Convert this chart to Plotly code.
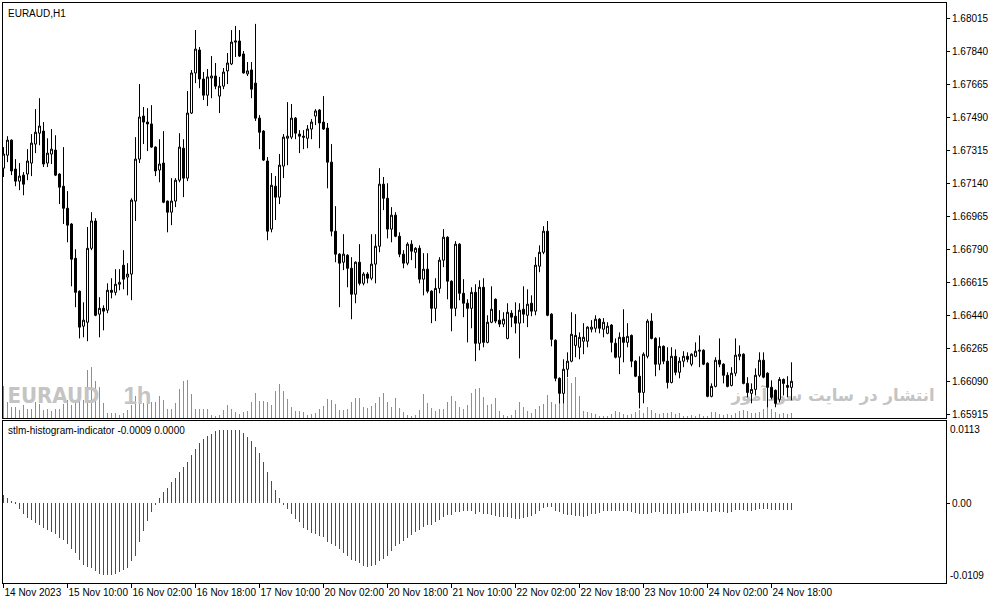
import pandas as pd
import plotly.graph_objects as go

# EURAUD H1, 14 Nov 2023 18:00 -> 24 Nov 2023 23:00 (198 bars, weekend skipped)
hours = pd.date_range("2023-11-14 18:00", "2023-11-24 23:00", freq="h")
hours = hours[hours.dayofweek < 5]
times = [t.strftime("%Y-%m-%d %H:%M") for t in hours]

opens = [
    1.67222, 1.67291, 1.67371, 1.67217, 1.67153, 1.67185, 1.67191, 1.67249, 1.67350, 1.67408,
    1.67419, 1.67249, 1.67297, 1.67318, 1.67191, 1.67126, 1.67009, 1.66925, 1.66743, 1.66568,
    1.66382, 1.66403, 1.66796, 1.66941, 1.66446, 1.66477, 1.66467, 1.66573, 1.66562, 1.66605,
    1.66706, 1.66643, 1.66659, 1.67047, 1.67270, 1.67499, 1.67467, 1.67457, 1.67334, 1.67212,
    1.67249, 1.67047, 1.66988, 1.67047, 1.67158, 1.67328, 1.67169, 1.67515, 1.67728, 1.67850,
    1.67696, 1.67610, 1.67701, 1.67712, 1.67605, 1.67658, 1.67739, 1.67776, 1.67892, 1.67898,
    1.67829, 1.67723, 1.67744, 1.67674, 1.67488, 1.67419, 1.67260, 1.66898, 1.67126, 1.67068,
    1.67233, 1.67381, 1.67387, 1.67488, 1.67403, 1.67392, 1.67381, 1.67430, 1.67499, 1.67531,
    1.67467, 1.67435, 1.67254, 1.66887, 1.66765, 1.66722, 1.66759, 1.66690, 1.66552, 1.66722,
    1.66610, 1.66659, 1.66637, 1.66712, 1.66807, 1.67137, 1.67062, 1.66898, 1.66972, 1.66860,
    1.66765, 1.66717, 1.66818, 1.66775, 1.66796, 1.66632, 1.66685, 1.66568, 1.66477, 1.66583,
    1.66733, 1.66855, 1.66621, 1.66477, 1.66818, 1.66557, 1.66504, 1.66477, 1.66562, 1.66291,
    1.66589, 1.66296, 1.66403, 1.66525, 1.66414, 1.66393, 1.66317, 1.66451, 1.66435, 1.66398,
    1.66472, 1.66440, 1.66504, 1.66462, 1.66701, 1.66775, 1.66887, 1.66446, 1.66307, 1.66105,
    1.66025, 1.66153, 1.66196, 1.66280, 1.66270, 1.66302, 1.66302, 1.66366, 1.66371, 1.66419,
    1.66366, 1.66344, 1.66388, 1.66291, 1.66217, 1.66323, 1.66296, 1.66333, 1.66196, 1.66116,
    1.66030, 1.66222, 1.66409, 1.66317, 1.66180, 1.66275, 1.66196, 1.66083, 1.66222, 1.66137,
    1.66196, 1.66222, 1.66180, 1.66222, 1.66249, 1.66254, 1.66185, 1.66009, 1.66062, 1.66201,
    1.66180, 1.66121, 1.66067, 1.66132, 1.66222, 1.66233, 1.66078, 1.66025, 1.66046, 1.66121,
    1.66201, 1.66132, 1.66057, 1.66041, 1.65993, 1.66099, 1.66067, 1.66057,
]
highs = [
    1.67334, 1.67392, 1.67375, 1.67270, 1.67249, 1.67201, 1.67323, 1.67403, 1.67536, 1.67594,
    1.67467, 1.67381, 1.67430, 1.67397, 1.67195, 1.67334, 1.67100, 1.66930, 1.66791, 1.66572,
    1.66509, 1.66909, 1.66988, 1.66956, 1.66536, 1.66493, 1.66610, 1.66637, 1.66685, 1.66685,
    1.66786, 1.66717, 1.67062, 1.67387, 1.67669, 1.67547, 1.67541, 1.67557, 1.67338, 1.67376,
    1.67419, 1.67050, 1.67169, 1.67169, 1.67408, 1.67376, 1.67632, 1.67744, 1.67956, 1.67866,
    1.67733, 1.67749, 1.67818, 1.67781, 1.67707, 1.67754, 1.67834, 1.67956, 1.67978, 1.67956,
    1.67845, 1.67786, 1.67786, 1.67989, 1.67504, 1.67424, 1.67281, 1.67196, 1.67180, 1.67297,
    1.67403, 1.67573, 1.67563, 1.67494, 1.67424, 1.67424, 1.67451, 1.67483, 1.67536, 1.67536,
    1.67605, 1.67462, 1.67350, 1.67020, 1.66770, 1.66871, 1.66765, 1.66749, 1.66727, 1.66818,
    1.66669, 1.66669, 1.66871, 1.66871, 1.67222, 1.67175, 1.67142, 1.67015, 1.66988, 1.66881,
    1.66786, 1.66828, 1.66839, 1.66802, 1.66812, 1.66770, 1.66770, 1.66573, 1.66637, 1.66749,
    1.66898, 1.66860, 1.66626, 1.66834, 1.66823, 1.66632, 1.66525, 1.66589, 1.66605, 1.66626,
    1.66637, 1.66440, 1.66594, 1.66530, 1.66467, 1.66456, 1.66504, 1.66467, 1.66509, 1.66504,
    1.66594, 1.66578, 1.66546, 1.66749, 1.66812, 1.66914, 1.66941, 1.66451, 1.66312, 1.66110,
    1.66206, 1.66243, 1.66456, 1.66446, 1.66349, 1.66398, 1.66382, 1.66414, 1.66440, 1.66425,
    1.66425, 1.66403, 1.66393, 1.66317, 1.66349, 1.66472, 1.66398, 1.66338, 1.66201, 1.66222,
    1.66243, 1.66419, 1.66451, 1.66323, 1.66323, 1.66280, 1.66270, 1.66270, 1.66259, 1.66217,
    1.66249, 1.66243, 1.66238, 1.66296, 1.66333, 1.66259, 1.66190, 1.66078, 1.66217, 1.66317,
    1.66185, 1.66137, 1.66164, 1.66317, 1.66280, 1.66238, 1.66111, 1.66078, 1.66158, 1.66243,
    1.66243, 1.66137, 1.66094, 1.66046, 1.66111, 1.66104, 1.66116, 1.66190,
]
lows = [
    1.67175, 1.67254, 1.67185, 1.67126, 1.67105, 1.67078, 1.67158, 1.67180, 1.67302, 1.67344,
    1.67228, 1.67228, 1.67244, 1.67180, 1.67031, 1.66925, 1.66828, 1.66594, 1.66483, 1.66317,
    1.66323, 1.66302, 1.66786, 1.66435, 1.66323, 1.66360, 1.66451, 1.66530, 1.66546, 1.66573,
    1.66578, 1.66546, 1.66520, 1.66941, 1.67249, 1.67350, 1.67313, 1.67330, 1.67180, 1.67147,
    1.67036, 1.66881, 1.66919, 1.67015, 1.67147, 1.67068, 1.67153, 1.67510, 1.67674, 1.67647,
    1.67584, 1.67552, 1.67594, 1.67642, 1.67515, 1.67642, 1.67669, 1.67770, 1.67813, 1.67813,
    1.67725, 1.67712, 1.67594, 1.67473, 1.67323, 1.67260, 1.66839, 1.66881, 1.66946, 1.67031,
    1.67169, 1.67238, 1.67376, 1.67376, 1.67302, 1.67323, 1.67328, 1.67376, 1.67451, 1.67328,
    1.67425, 1.67115, 1.66860, 1.66722, 1.66483, 1.66680, 1.66589, 1.66419, 1.66504, 1.66599,
    1.66599, 1.66610, 1.66626, 1.66610, 1.66775, 1.66999, 1.66849, 1.66828, 1.66855, 1.66749,
    1.66690, 1.66706, 1.66733, 1.66690, 1.66610, 1.66546, 1.66557, 1.66398, 1.66409, 1.66557,
    1.66696, 1.66525, 1.66355, 1.66435, 1.66520, 1.66430, 1.66296, 1.66371, 1.66196, 1.66254,
    1.66270, 1.66291, 1.66398, 1.66398, 1.66377, 1.66377, 1.66312, 1.66377, 1.66344, 1.66211,
    1.66398, 1.66377, 1.66435, 1.66440, 1.66669, 1.66765, 1.66435, 1.66275, 1.66089, 1.65972,
    1.65972, 1.66111, 1.66190, 1.66217, 1.66206, 1.66233, 1.66270, 1.66349, 1.66349, 1.66344,
    1.66323, 1.66339, 1.66243, 1.66211, 1.66127, 1.66190, 1.66270, 1.66164, 1.66111, 1.65945,
    1.65972, 1.66211, 1.66312, 1.66116, 1.66148, 1.66180, 1.66051, 1.66078, 1.66121, 1.66105,
    1.66164, 1.66190, 1.66169, 1.66217, 1.66164, 1.66175, 1.66004, 1.66004, 1.66057, 1.66164,
    1.66078, 1.66057, 1.66062, 1.66116, 1.66201, 1.66073, 1.66004, 1.65972, 1.66014, 1.66111,
    1.66105, 1.65951, 1.65993, 1.65951, 1.65977, 1.66014, 1.66004, 1.65988,
]
closes = [
    1.67297, 1.67371, 1.67207, 1.67153, 1.67180, 1.67137, 1.67260, 1.67355, 1.67413, 1.67446,
    1.67244, 1.67302, 1.67323, 1.67185, 1.67121, 1.67009, 1.66919, 1.66738, 1.66562, 1.66377,
    1.66414, 1.66796, 1.66941, 1.66440, 1.66477, 1.66462, 1.66573, 1.66562, 1.66605, 1.66615,
    1.66632, 1.66659, 1.67052, 1.67270, 1.67494, 1.67467, 1.67457, 1.67334, 1.67207, 1.67244,
    1.67041, 1.66988, 1.67047, 1.67158, 1.67334, 1.67169, 1.67515, 1.67728, 1.67855, 1.67696,
    1.67610, 1.67707, 1.67712, 1.67658, 1.67658, 1.67733, 1.67781, 1.67892, 1.67898, 1.67818,
    1.67728, 1.67739, 1.67642, 1.67488, 1.67413, 1.67265, 1.66887, 1.67131, 1.67068, 1.67238,
    1.67387, 1.67392, 1.67488, 1.67408, 1.67392, 1.67387, 1.67430, 1.67467, 1.67526, 1.67462,
    1.67430, 1.67254, 1.66887, 1.66765, 1.66717, 1.66765, 1.66690, 1.66552, 1.66722, 1.66610,
    1.66659, 1.66637, 1.66712, 1.66807, 1.67137, 1.67062, 1.66898, 1.66972, 1.66860, 1.66765,
    1.66717, 1.66818, 1.66781, 1.66796, 1.66632, 1.66685, 1.66568, 1.66477, 1.66583, 1.66733,
    1.66855, 1.66621, 1.66477, 1.66818, 1.66557, 1.66504, 1.66477, 1.66562, 1.66291, 1.66589,
    1.66296, 1.66403, 1.66472, 1.66409, 1.66393, 1.66419, 1.66456, 1.66430, 1.66398, 1.66467,
    1.66446, 1.66499, 1.66462, 1.66706, 1.66775, 1.66887, 1.66440, 1.66312, 1.66105, 1.66025,
    1.66153, 1.66196, 1.66339, 1.66333, 1.66323, 1.66323, 1.66377, 1.66377, 1.66419, 1.66371,
    1.66403, 1.66382, 1.66296, 1.66217, 1.66323, 1.66296, 1.66328, 1.66196, 1.66116, 1.66030,
    1.66233, 1.66409, 1.66317, 1.66180, 1.66275, 1.66196, 1.66083, 1.66222, 1.66137, 1.66196,
    1.66222, 1.66206, 1.66233, 1.66249, 1.66254, 1.66180, 1.66009, 1.66062, 1.66201, 1.66180,
    1.66121, 1.66062, 1.66132, 1.66228, 1.66233, 1.66078, 1.66030, 1.66046, 1.66121, 1.66201,
    1.66111, 1.66057, 1.66004, 1.65972, 1.66099, 1.66078, 1.66057, 1.66089,
]
# relative tick volume, as bar heights
tick_volume = [
    32, 16, 11, 11, 8, 13, 9, 9, 16, 14, 8, 9, 7, 9, 9, 14, 18, 13, 16, 18,
    18, 48, 51, 37, 31, 15, 5, 5, 5, 3, 5, 8, 13, 22, 18, 15, 21, 16, 16, 22,
    18, 9, 9, 15, 29, 37, 38, 24, 9, 9, 9, 9, 3, 2, 3, 8, 13, 9, 6, 4,
    6, 7, 16, 25, 17, 17, 16, 13, 27, 34, 27, 19, 11, 7, 7, 6, 3, 4, 5, 9,
    12, 19, 18, 14, 8, 8, 9, 16, 20, 20, 11, 10, 12, 15, 21, 25, 16, 11, 20, 10,
    6, 3, 2, 3, 8, 24, 15, 10, 7, 9, 9, 16, 22, 17, 11, 9, 13, 25, 29, 30,
    21, 13, 14, 20, 7, 3, 1, 3, 8, 16, 11, 7, 5, 9, 12, 14, 23, 16, 14, 15,
    28, 40, 35, 41, 22, 7, 6, 5, 4, 2, 2, 1, 4, 7, 6, 4, 3, 4, 6, 8,
    5, 11, 8, 5, 4, 5, 5, 6, 4, 5, 2, 2, 3, 2, 4, 2, 2, 6, 6, 4,
    3, 4, 3, 5, 7, 8, 7, 5, 5, 6, 9, 11, 9, 6, 4, 5, 4, 5,
]
stlm_values = [
    0.0011, 0.0008, 0.0003, 0.0001, -0.0007, -0.0014, -0.0020, -0.0022, -0.0027, -0.0030,
    -0.0033, -0.0037, -0.0039, -0.0042, -0.0047, -0.0050, -0.0055, -0.0062, -0.0068, -0.0078,
    -0.0085, -0.0087, -0.0088, -0.0093, -0.0096, -0.0098, -0.0098, -0.0098, -0.0097, -0.0094,
    -0.0091, -0.0088, -0.0079, -0.0072, -0.0053, -0.0038, -0.0024, -0.0012, -0.0001, 0.0007,
    0.0016, 0.0021, 0.0029, 0.0035, 0.0043, 0.0050, 0.0057, 0.0066, 0.0075, 0.0083,
    0.0088, 0.0093, 0.0095, 0.0099, 0.0100, 0.0101, 0.0101, 0.0101, 0.0101, 0.0100,
    0.0096, 0.0091, 0.0085, 0.0077, 0.0069, 0.0057, 0.0043, 0.0031, 0.0018, 0.0007,
    -0.0001, -0.0007, -0.0014, -0.0021, -0.0026, -0.0033, -0.0037, -0.0040, -0.0042, -0.0044,
    -0.0046, -0.0053, -0.0055, -0.0058, -0.0063, -0.0068, -0.0072, -0.0077, -0.0079, -0.0082,
    -0.0086, -0.0087, -0.0086, -0.0084, -0.0079, -0.0076, -0.0072, -0.0065, -0.0058, -0.0055,
    -0.0052, -0.0047, -0.0043, -0.0039, -0.0036, -0.0032, -0.0030, -0.0029, -0.0026, -0.0023,
    -0.0019, -0.0016, -0.0016, -0.0012, -0.0012, -0.0011, -0.0011, -0.0011, -0.0014, -0.0012,
    -0.0015, -0.0015, -0.0016, -0.0017, -0.0019, -0.0019, -0.0019, -0.0020, -0.0021, -0.0021,
    -0.0020, -0.0019, -0.0017, -0.0015, -0.0011, -0.0006, -0.0005, -0.0005, -0.0010, -0.0012,
    -0.0014, -0.0016, -0.0016, -0.0017, -0.0017, -0.0018, -0.0017, -0.0015, -0.0014, -0.0013,
    -0.0011, -0.0011, -0.0011, -0.0011, -0.0011, -0.0011, -0.0010, -0.0012, -0.0013, -0.0015,
    -0.0015, -0.0014, -0.0013, -0.0012, -0.0012, -0.0014, -0.0014, -0.0014, -0.0014, -0.0014,
    -0.0013, -0.0013, -0.0011, -0.0011, -0.0010, -0.0011, -0.0012, -0.0012, -0.0011, -0.0012,
    -0.0012, -0.0013, -0.0012, -0.0009, -0.0009, -0.0009, -0.0010, -0.0010, -0.0009, -0.0008,
    -0.0007, -0.0008, -0.0009, -0.0009, -0.0009, -0.0009, -0.0009, -0.0009,
]
# u = rising buffer (green), d = falling buffer (red)
stlm_dir = (
    "dddddddddd" "dddddddddd" "ddddddduuu" "uuuuuuuuuu" "uuuuuuuuuu"
    "uuuuuuuudd" "dddddddddd" "dddddddddd" "dddddddddd" "dduuuuuuuu"
    "uuuuuuuuuu" "uuuuuudddu" "dddddddddd" "duuuuuuddd" "dddddduuuu"
    "uuuduuuddd" "duuudddddu" "uuuuudddud" "ddduuudduu" "uddduudu"
)

price_ticks = [1.65915, 1.66090, 1.66265, 1.66440, 1.66615, 1.66790, 1.66965,
               1.67140, 1.67315, 1.67490, 1.67665, 1.67840, 1.68015]
tick_times = ["2023-11-14 18:00", "2023-11-15 10:00", "2023-11-16 02:00", "2023-11-16 18:00",
              "2023-11-17 10:00", "2023-11-20 02:00", "2023-11-20 18:00", "2023-11-21 10:00",
              "2023-11-22 02:00", "2023-11-22 18:00", "2023-11-23 10:00", "2023-11-24 02:00",
              "2023-11-24 18:00"]
tick_text = ["14 Nov 2023", "15 Nov 10:00", "16 Nov 02:00", "16 Nov 18:00", "17 Nov 10:00",
             "20 Nov 02:00", "20 Nov 18:00", "21 Nov 10:00", "22 Nov 02:00", "22 Nov 18:00",
             "23 Nov 10:00", "24 Nov 02:00", "24 Nov 18:00"]

FONT = "Liberation Sans, Arial, sans-serif"
bar_colors = ["#008000" if d == "u" else "#ff0000" for d in stlm_dir]

fig = go.Figure()

# volume + watermarks on the base axis, candles on the overlay so they sit on top
fig.add_trace(go.Bar(x=times, y=tick_volume, xaxis="x", yaxis="y", width=0.25,
                     marker=dict(color="#3cc83c", line=dict(width=0)), hoverinfo="skip"))
fig.add_trace(go.Scatter(x=[times[1]], y=[20], mode="text",
                         text=["EURAUD"], textposition="middle right",
                         textfont=dict(family="DejaVu Sans Condensed, Liberation Sans, Arial",
                                       size=22, color="#c4c4c4", weight="bold"),
                         xaxis="x", yaxis="y", hoverinfo="skip"))
fig.add_trace(go.Scatter(x=[times[30]], y=[20], mode="text",
                         text=["1h"], textposition="middle right",
                         textfont=dict(family="Liberation Sans, Arial",
                                       size=24, color="#c4c4c4", weight="bold"),
                         xaxis="x", yaxis="y", hoverinfo="skip"))
fig.add_trace(go.Scatter(x=[times[182]], y=[21], mode="text",
                         text=["انتشار در سایت سودآموز"], textposition="middle right",
                         textfont=dict(family="DejaVu Sans", size=16.5, color="#c4c4c4",
                                       weight="bold"),
                         xaxis="x", yaxis="y", hoverinfo="skip"))

fig.add_trace(go.Candlestick(
    x=times, open=opens, high=highs, low=lows, close=closes,
    xaxis="x", yaxis="y3", whiskerwidth=0,
    increasing=dict(line=dict(color="black", width=1), fillcolor="white"),
    decreasing=dict(line=dict(color="black", width=1), fillcolor="black"),
    hoverinfo="skip",
))

fig.add_trace(go.Bar(x=times, y=stlm_values, xaxis="x2", yaxis="y2", width=0.25,
                     marker=dict(color=bar_colors, line=dict(width=0)), hoverinfo="skip"))

frame = dict(showline=True, mirror=True, linecolor="black", linewidth=1,
             showgrid=False, zeroline=False, automargin=False)
# 4 px per bar, bar centres on half pixels so 1 px marks stay crisp
xrange = [-0.125, 235.625]

fig.update_layout(
    width=991, height=605,
    margin=dict(l=3, r=45, t=3, b=22, autoexpand=False),
    paper_bgcolor="white", plot_bgcolor="white",
    showlegend=False, bargap=0, boxgap=0.5, boxgroupgap=0,
    font=dict(family=FONT, size=10, color="black"),
    xaxis=dict(type="category", anchor="y", range=xrange, showticklabels=False,
               ticks="", rangeslider=dict(visible=False), **frame),
    yaxis=dict(domain=[0.2845, 1], range=[0, 415], showticklabels=False, ticks="", **frame),
    yaxis3=dict(overlaying="y", anchor="x", side="right", range=[1.65894, 1.68100],
                tickvals=price_ticks, ticktext=[f"{p:.5f}" for p in price_ticks],
                ticks="outside", ticklen=3, tickcolor="black", showgrid=False,
                zeroline=False, showline=False, automargin=False),
    xaxis2=dict(type="category", anchor="y2", matches="x", range=xrange,
                tickvals=tick_times, ticktext=tick_text, ticks="outside", ticklen=4,
                tickcolor="black", ticklabelposition="outside right", tickangle=0,
                ticklabelstandoff=0, **frame),
    yaxis2=dict(domain=[0, 0.2793], anchor="x2", side="right", range=[-0.0109, 0.0113],
                tickvals=[0], ticktext=["0.00"], ticks="outside", ticklen=3,
                tickcolor="black", **frame),
    annotations=[
        dict(text="EURAUD,H1", xref="paper", yref="paper", x=0, y=1, xanchor="left",
             yanchor="top", xshift=3, yshift=-3, showarrow=False),
        dict(text="stlm-histogram-indicator -0.0009 0.0000", xref="paper", yref="paper",
             x=0, y=0.2793, xanchor="left", yanchor="top", xshift=3, yshift=-2,
             showarrow=False),
        dict(text="0.0113", xref="paper", yref="y2", x=1, y=0.0113, xanchor="left",
             yanchor="top", xshift=2, yshift=-1, showarrow=False),
        dict(text="-0.0109", xref="paper", yref="y2", x=1, y=-0.0109, xanchor="left",
             yanchor="bottom", xshift=2, showarrow=False),
    ],
)

# page has the default 8px body margin; drop it so the chart fills the window
fig.write_html("out.html", config={"displayModeBar": False},
               post_script="document.body.style.margin='0';")
